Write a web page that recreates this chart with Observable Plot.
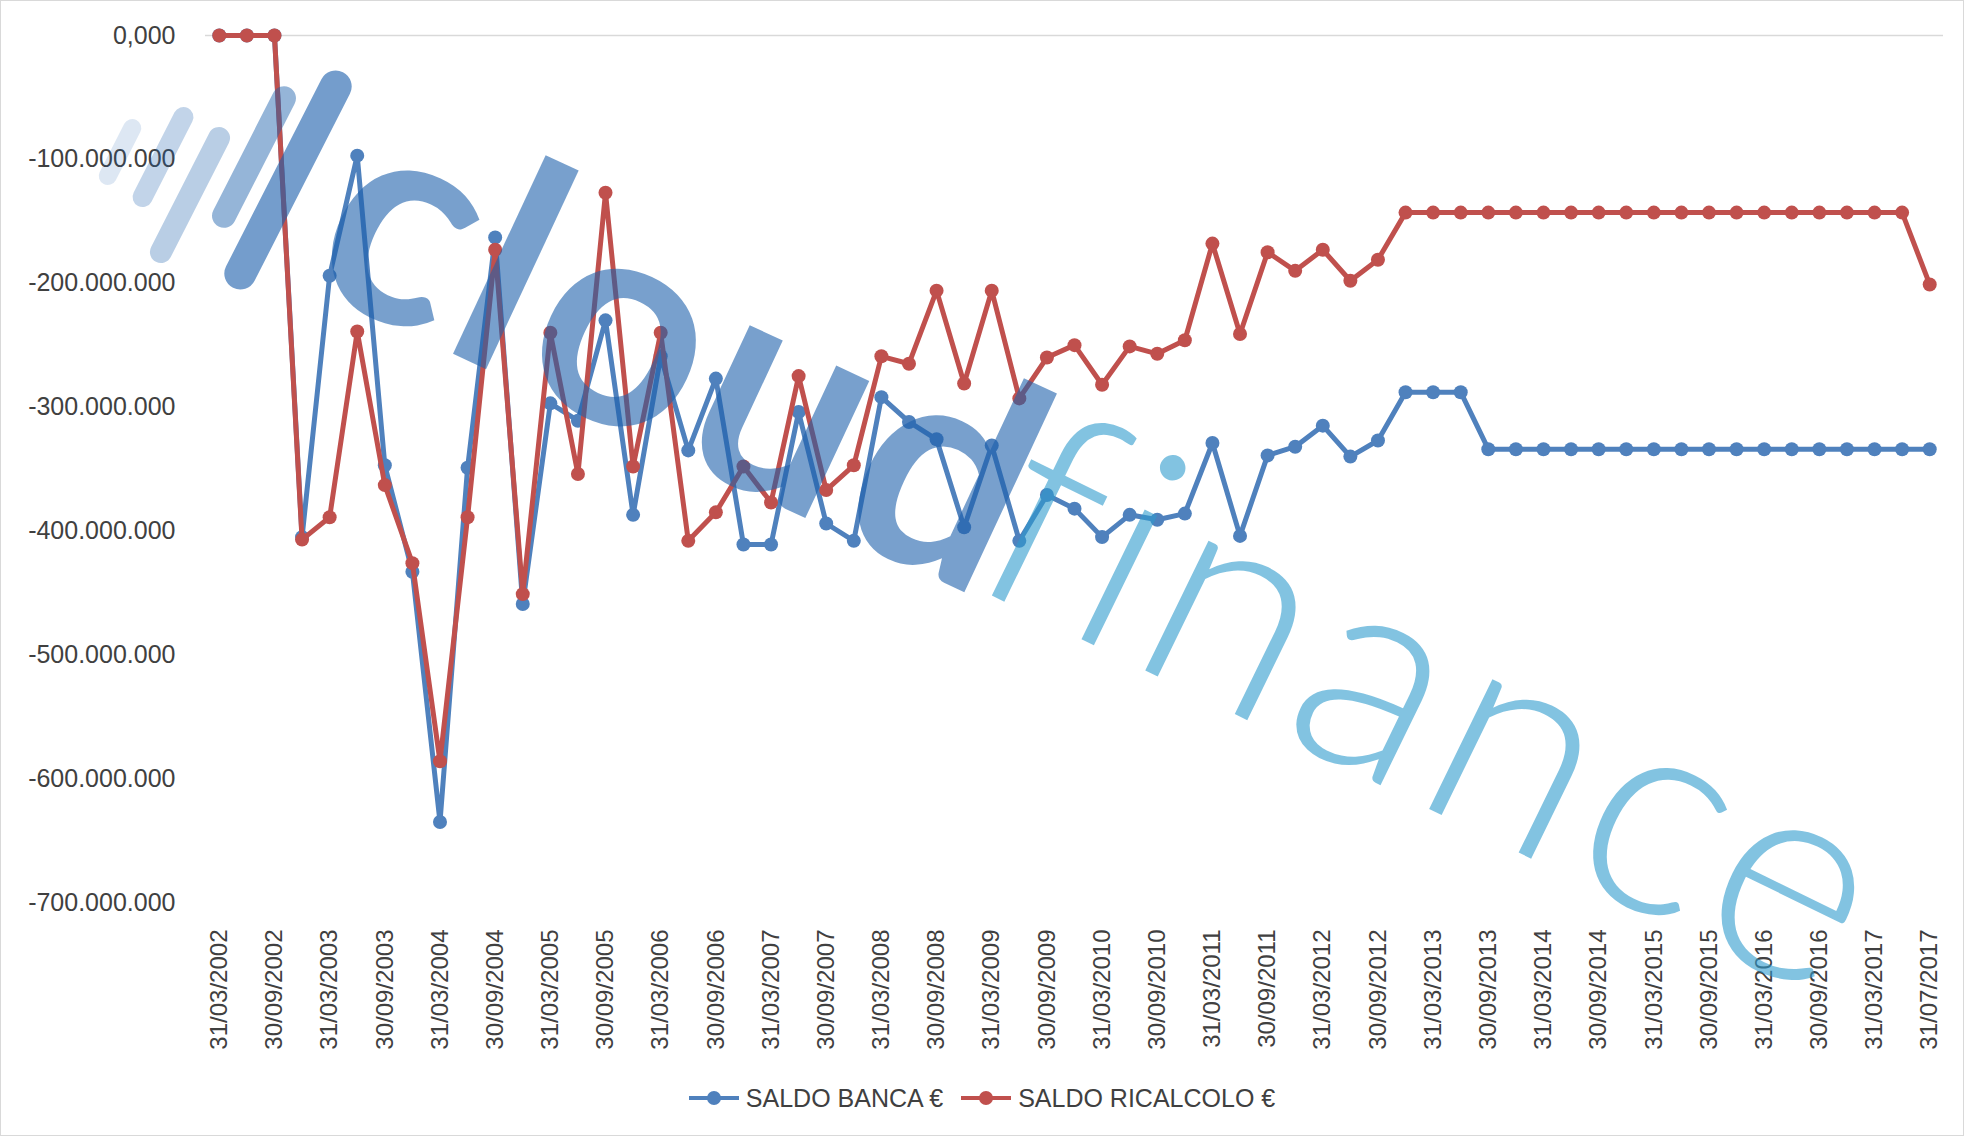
<!DOCTYPE html>
<html><head><meta charset="utf-8">
<script src="https://cdn.jsdelivr.net/npm/d3@7"></script>
<script src="https://cdn.jsdelivr.net/npm/@observablehq/plot@0.6"></script>
<style>
html,body{margin:0;padding:0;background:#fff;}
#wrap{position:relative;width:1964px;height:1136px;overflow:hidden;background:#fff;font-family:"Liberation Sans",Arial,sans-serif;}
#frame{position:absolute;left:0;top:0;right:0;bottom:0;border:1px solid #d9d9d9;pointer-events:none;}
#chart{position:absolute;left:0;top:0;}
#legend{position:absolute;left:0;top:1060px;width:1964px;height:76px;display:flex;justify-content:center;align-items:center;font-size:25px;color:#404040;}
.item{display:flex;align-items:center;margin:0 9px;}
.item span{margin-left:7px;white-space:nowrap;}
#wm{position:absolute;left:0;top:0;width:1964px;height:1060px;pointer-events:none;overflow:hidden;}
.bar{position:absolute;transform:translate(-50%,-50%) rotate(27deg);}
.word{position:absolute;white-space:nowrap;line-height:1;font-family:Lato,"Open Sans",sans-serif;}
</style></head>
<body><div id="wrap"><div id="chart"></div>
<div id="wm">
  <div class="bar" style="left:120px;top:152px;width:18px;height:72px;border-radius:9px;background:rgba(30,97,172,0.15)"></div>
  <div class="bar" style="left:163px;top:157px;width:20px;height:110px;border-radius:10px;background:rgba(30,97,172,0.27)"></div>
  <div class="bar" style="left:190px;top:195px;width:22px;height:150px;border-radius:11px;background:rgba(30,97,172,0.31)"></div>
  <div class="bar" style="left:254px;top:157px;width:24px;height:156px;border-radius:12px;background:rgba(30,97,172,0.47)"></div>
  <div class="bar" style="left:288px;top:180px;width:32px;height:242px;border-radius:16px;background:rgba(30,97,172,0.62)"></div>
  <div class="word" style="left:692px;top:340px;font-size:295px;font-weight:700;letter-spacing:8px;color:rgba(30,97,172,0.6);transform:translate(-50%,-50%) rotate(25deg)">cloud</div>
  <div class="word" style="left:1445px;top:692px;font-size:290px;font-weight:300;letter-spacing:8px;color:rgba(47,155,205,0.6);transform:translate(-50%,-50%) rotate(26deg)">finance</div>
</div>
<div id="legend"></div><div id="frame"></div></div>
<script>
const dates = [
  "31/03/2002","30/06/2002","30/09/2002","31/12/2002",
  "31/03/2003","30/06/2003","30/09/2003","31/12/2003",
  "31/03/2004","30/06/2004","30/09/2004","31/12/2004",
  "31/03/2005","30/06/2005","30/09/2005","31/12/2005",
  "31/03/2006","30/06/2006","30/09/2006","31/12/2006",
  "31/03/2007","30/06/2007","30/09/2007","31/12/2007",
  "31/03/2008","30/06/2008","30/09/2008","31/12/2008",
  "31/03/2009","30/06/2009","30/09/2009","31/12/2009",
  "31/03/2010","30/06/2010","30/09/2010","31/12/2010",
  "31/03/2011","30/06/2011","30/09/2011","31/12/2011",
  "31/03/2012","30/06/2012","30/09/2012","31/12/2012",
  "31/03/2013","30/06/2013","30/09/2013","31/12/2013",
  "31/03/2014","30/06/2014","30/09/2014","31/12/2014",
  "31/03/2015","30/06/2015","30/09/2015","31/12/2015",
  "31/03/2016","30/06/2016","30/09/2016","31/12/2016",
  "31/03/2017","30/06/2017","31/07/2017"
];
// values in millions of euro
const saldoBanca = [
  0, 0, 0, -405,
  -194, -97, -347, -433,
  -635, -349, -163, -459,
  -297, -311, -230, -387,
  -259, -335, -277, -411,
  -411, -304, -394, -408,
  -292, -312, -326, -397,
  -331, -408, -371, -382,
  -405, -387, -391, -386,
  -329, -404, -339, -332,
  -315, -340, -327, -288,
  -288, -288, -334, -334,
  -334, -334, -334, -334,
  -334, -334, -334, -334,
  -334, -334, -334, -334,
  -334, -334, -334
];
const saldoRicalcolo = [
  0, 0, 0, -407,
  -389, -239, -363, -426,
  -586, -389, -173, -451,
  -240, -354, -127, -348,
  -240, -408, -385, -348,
  -377, -275, -367, -347,
  -259, -265, -206, -281,
  -206, -293, -260, -250,
  -282, -251, -257, -246,
  -168, -241, -175, -190,
  -173, -198, -181, -143,
  -143, -143, -143, -143,
  -143, -143, -143, -143,
  -143, -143, -143, -143,
  -143, -143, -143, -143,
  -143, -143, -201
];
const seriesNames = ["SALDO BANCA €", "SALDO RICALCOLO €"];
const seriesColors = ["#4f81bd", "#c0504d"];
const yTicks = [0, -100e6, -200e6, -300e6, -400e6, -500e6, -600e6, -700e6];
const yTickLabels = ["0,000","-100.000.000","-200.000.000","-300.000.000","-400.000.000","-500.000.000","-600.000.000","-700.000.000"];
const xTicks = dates.filter((d, i) => i % 2 === 0);

const banca = dates.map((d, i) => ({date: d, value: saldoBanca[i] * 1e6, series: seriesNames[0]}));
const ricalcolo = dates.map((d, i) => ({date: d, value: saldoRicalcolo[i] * 1e6, series: seriesNames[1]}));

const chart = Plot.plot({
  width: 1964,
  height: 1060,
  marginLeft: 205,
  marginRight: 21,
  marginTop: 35,
  marginBottom: 158,
  style: {fontFamily: "'Liberation Sans', Arial, sans-serif", fontSize: "24px", color: "#404040", background: "transparent"},
  x: {type: "point", domain: dates, padding: 0.5, axis: null},
  y: {domain: [-700e6, 0], axis: null},
  color: {domain: seriesNames, range: seriesColors},
  marks: [
    Plot.ruleY([0], {stroke: "#d9d9d9", strokeWidth: 1.5}),
    Plot.axisY(yTicks, {tickSize: 0, tickPadding: 30, fontSize: 25, tickFormat: (d) => yTickLabels[yTicks.indexOf(d)], label: null}),
    Plot.axisX(xTicks, {tickRotate: -90, tickSize: 0, tickPadding: 27, fontSize: 24, label: null}),
    Plot.line(banca, {x: "date", y: "value", stroke: "series", strokeWidth: 5}),
    Plot.dot(banca, {x: "date", y: "value", fill: "series", r: 7}),
    Plot.line(ricalcolo, {x: "date", y: "value", stroke: "series", strokeWidth: 5}),
    Plot.dot(ricalcolo, {x: "date", y: "value", fill: "series", r: 7})
  ]
});
document.getElementById("chart").appendChild(chart);

const legend = document.getElementById("legend");
seriesNames.forEach((name, i) => {
  const item = document.createElement("div");
  item.className = "item";
  item.innerHTML = `<svg width="50" height="16"><line x1="0" y1="8" x2="50" y2="8" stroke="${seriesColors[i]}" stroke-width="4"/><circle cx="25" cy="8" r="7" fill="${seriesColors[i]}"/></svg><span>${name}</span>`;
  legend.appendChild(item);
});
</script></body></html>
